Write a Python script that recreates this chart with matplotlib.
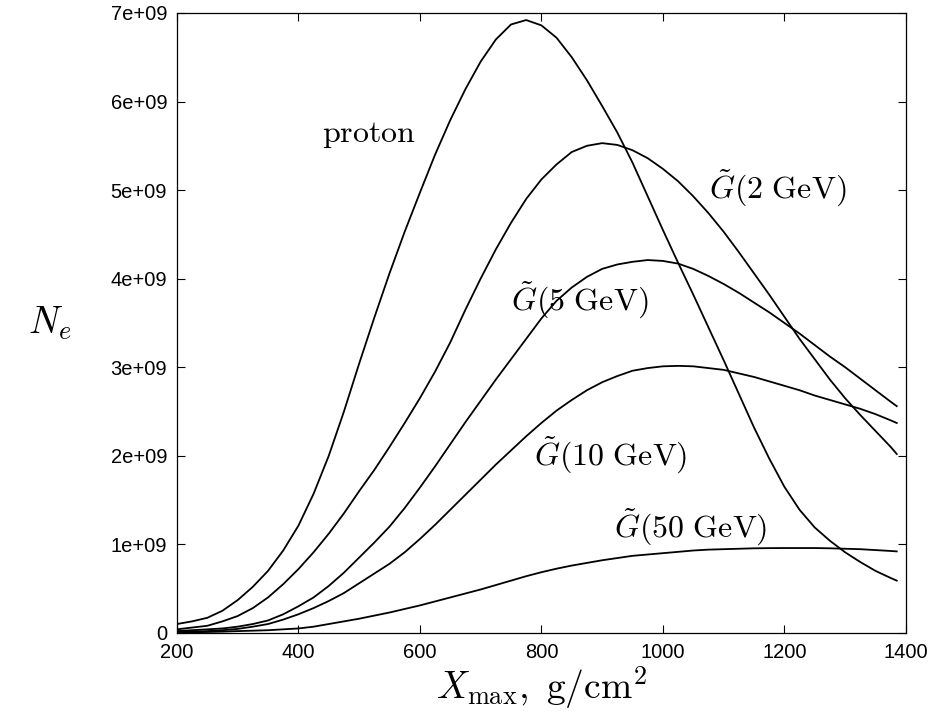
import matplotlib
matplotlib.use('Agg')
import matplotlib.pyplot as plt
from matplotlib.ticker import FuncFormatter

plt.rcParams['mathtext.fontset'] = 'cm'
plt.rcParams['font.family'] = ['Liberation Sans', 'DejaVu Sans']

# Xmax grid (g/cm^2): every 25 up to 1375, last point at 1385
xmax = list(range(200, 1376, 25)) + [1385]

# shower sizes in units of 1e9
proton = [0.10, 0.13, 0.17, 0.25, 0.37, 0.52, 0.70, 0.93, 1.21, 1.57,
          2.00, 2.50, 3.04, 3.56, 4.06, 4.53, 4.97, 5.40, 5.79, 6.14,
          6.45, 6.70, 6.87, 6.92, 6.86, 6.72, 6.50, 6.24, 5.95, 5.65,
          5.31, 4.93, 4.55, 4.18, 3.82, 3.45, 3.08, 2.70, 2.32, 1.97,
          1.65, 1.39, 1.19, 1.04, 0.91, 0.80, 0.70, 0.62, 0.59]
g2 = [0.04, 0.06, 0.08, 0.13, 0.19, 0.28, 0.40, 0.55, 0.72, 0.91,
      1.12, 1.35, 1.60, 1.84, 2.10, 2.37, 2.65, 2.95, 3.28, 3.65,
      4.00, 4.33, 4.63, 4.90, 5.12, 5.29, 5.43, 5.50, 5.53, 5.51,
      5.45, 5.36, 5.24, 5.10, 4.93, 4.74, 4.53, 4.30, 4.06, 3.82,
      3.57, 3.32, 3.09, 2.86, 2.65, 2.46, 2.28, 2.10, 2.02]
g5 = [0.02, 0.03, 0.04, 0.05, 0.07, 0.10, 0.14, 0.21, 0.30, 0.40,
      0.53, 0.68, 0.85, 1.02, 1.20, 1.41, 1.64, 1.88, 2.13, 2.38,
      2.62, 2.86, 3.09, 3.32, 3.55, 3.75, 3.90, 4.02, 4.11, 4.16,
      4.19, 4.21, 4.20, 4.17, 4.11, 4.03, 3.94, 3.84, 3.73, 3.62,
      3.50, 3.38, 3.25, 3.12, 3.00, 2.87, 2.74, 2.61, 2.56]
g10 = [0.01, 0.015, 0.02, 0.03, 0.045, 0.07, 0.10, 0.15, 0.21, 0.28,
       0.36, 0.45, 0.56, 0.67, 0.78, 0.91, 1.06, 1.22, 1.39, 1.56,
       1.73, 1.90, 2.06, 2.22, 2.37, 2.51, 2.63, 2.74, 2.83, 2.90,
       2.96, 2.99, 3.01, 3.015, 3.01, 2.99, 2.97, 2.93, 2.89, 2.84,
       2.79, 2.74, 2.68, 2.63, 2.58, 2.53, 2.47, 2.40, 2.37]
g50 = [0.005, 0.007, 0.01, 0.014, 0.02, 0.025, 0.03, 0.04, 0.05, 0.07,
       0.10, 0.13, 0.16, 0.195, 0.23, 0.27, 0.31, 0.355, 0.40, 0.445,
       0.49, 0.54, 0.59, 0.64, 0.685, 0.725, 0.76, 0.79, 0.82, 0.845,
       0.87, 0.885, 0.90, 0.915, 0.93, 0.94, 0.945, 0.95, 0.955, 0.957,
       0.958, 0.958, 0.958, 0.955, 0.95, 0.945, 0.935, 0.925, 0.92]

series = [proton, g2, g5, g10, g50]

labels = [r'$\mathrm{proton}$', r'$\tilde{G}(2\ \mathrm{GeV})$', r'$\tilde{G}(5\ \mathrm{GeV})$',
          r'$\tilde{G}(10\ \mathrm{GeV})$', r'$\tilde{G}(50\ \mathrm{GeV})$']
label_x = [516, 1189, 863, 914, 1046]
label_y = [5.62, 5.02, 3.76, 2.01, 1.19]

fig = plt.figure(figsize=(9.31, 7.2), dpi=100)
ax = fig.add_axes([0.190, 0.121, 0.783, 0.861])

for s in series:
    ax.plot(xmax, [v * 1e9 for v in s], color='black', lw=1.3)

for t, lx, ly in zip(labels, label_x, label_y):
    ax.text(lx, ly * 1e9, t, fontsize=23, ha='center', va='center')

ax.set_xlim(200, 1400)
ax.set_ylim(0, 7e9)
ax.set_xticks(range(200, 1401, 200))
ax.set_yticks([i * 1e9 for i in range(8)])
ax.yaxis.set_major_formatter(FuncFormatter(lambda v, p: '%g' % v))
ax.tick_params(direction='in', length=6, width=0.8, top=True, right=True,
               labelsize=14.5, pad=7)
for sp in ax.spines.values():
    sp.set_linewidth(0.9)

ax.set_xlabel(r'$X_{\max},\ \mathrm{g/cm}^2$', fontsize=27, labelpad=2)
ax.set_ylabel(r'$N_e$', fontsize=27, rotation=0, va='center', ha='center')
ax.yaxis.set_label_coords(-0.175, 0.5)

fig.savefig('out.png', dpi=100)
